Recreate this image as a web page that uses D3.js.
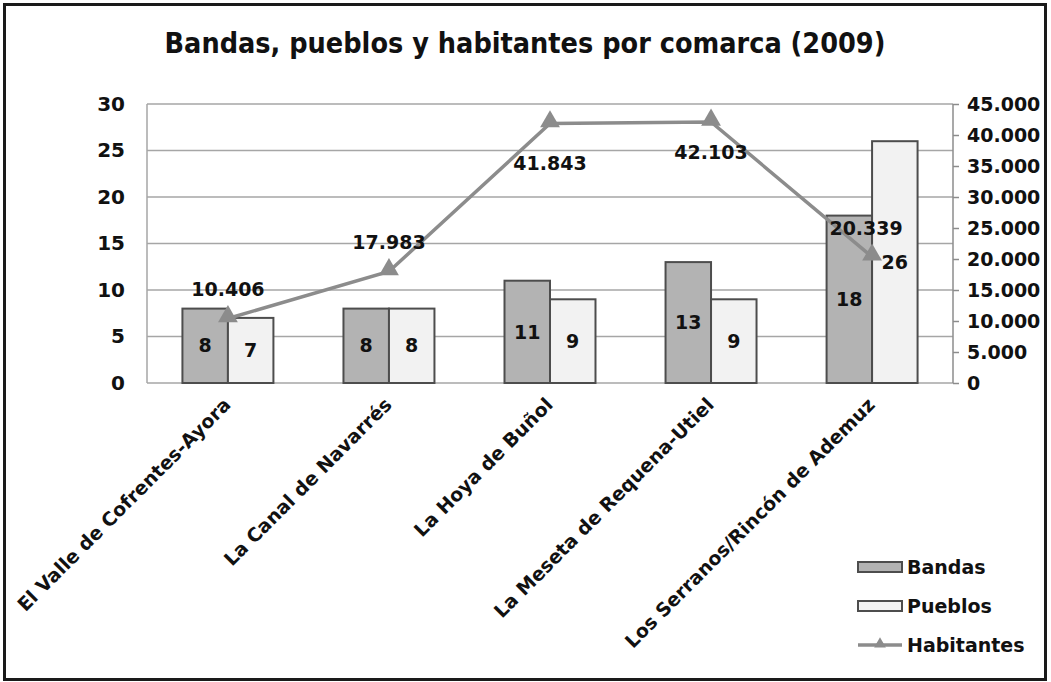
<!DOCTYPE html>
<html>
<head>
<meta charset="utf-8">
<script src="https://cdn.jsdelivr.net/npm/d3@7"></script>
<style>
  body { margin: 0; background: #fff; }
  text { font-family: 'DejaVu Sans', Verdana, sans-serif; font-weight: bold; fill: #111; }
</style>
</head>
<body>
<div id="chart"></div>
<script>
let comarcas = [
  'El Valle de Cofrentes-Ayora',
  'La Canal de Navarrés',
  'La Hoya de Buñol',
  'La Meseta de Requena-Utiel',
  'Los Serranos/Rincón de Ademuz'
]
let bandas = [8, 8, 11, 13, 18]
let pueblos = [7, 8, 9, 9, 26]
let habitantes = [10406, 17983, 41843, 42103, 20339]
let leftTicks = [0, 5, 10, 15, 20, 25, 30]
let rightTicks = [0, 5000, 10000, 15000, 20000, 25000, 30000, 35000, 40000, 45000]

let width = 1051
let height = 682
let margin = { top: 104, left: 147, right: 98, bottom: 299 }
let innerW = width - margin.left - margin.right
let innerH = height - margin.top - margin.bottom

let svg = d3
  .select('#chart')
  .append('svg')
  .attr('width', width)
  .attr('height', height)

// outer frame
svg
  .append('rect')
  .attr('x', 4.5)
  .attr('y', 4.5)
  .attr('width', 1041)
  .attr('height', 675)
  .attr('fill', '#fff')
  .attr('stroke', '#1a1a1a')
  .attr('stroke-width', 3)

svg
  .append('text')
  .attr('x', 525)
  .attr('y', 53)
  .attr('text-anchor', 'middle')
  .attr('font-size', 28.5)
  .style('font-family', "'DejaVu Sans Condensed', 'DejaVu Sans', sans-serif")
  .text('Bandas, pueblos y habitantes por comarca (2009)')

let g = svg
  .append('g')
  .attr('transform', 'translate(' + margin.left + ',' + margin.top + ')')

let xScale = d3.scaleBand().domain(comarcas).range([0, innerW]).paddingInner(0.435).paddingOuter(0.22)
let yLeft = d3.scaleLinear().domain([0, 30]).range([innerH, 0])
let yRight = d3.scaleLinear().domain([0, 45000]).range([innerH, 0])
let barW = xScale.bandwidth() / 2

// gridlines
g.selectAll('.grid')
  .data(leftTicks)
  .enter()
  .append('line')
  .attr('class', 'grid')
  .attr('x1', 0)
  .attr('x2', innerW)
  .attr('y1', d => yLeft(d))
  .attr('y2', d => yLeft(d))
  .attr('stroke', '#a6a6a6')
  .attr('stroke-width', 1.5)

// left frame line
g.append('line')
  .attr('x1', 0).attr('x2', 0)
  .attr('y1', 0).attr('y2', innerH)
  .attr('stroke', '#a6a6a6')
  .attr('stroke-width', 1.5)

let yAxisL = d3.axisLeft(yLeft).tickValues(leftTicks).tickSize(0).tickPadding(22)
g.append('g')
  .attr('class', 'axis y-left')
  .call(yAxisL)
  .call(a => a.select('.domain').remove())
  .selectAll('text')
  .attr('font-size', 20)
  .style('font-family', "'DejaVu Sans', sans-serif")
  .attr('font-weight', 'bold')
  .attr('fill', '#111')

let yAxisR = d3
  .axisRight(yRight)
  .tickValues(rightTicks)
  .tickSize(6)
  .tickPadding(8)
  .tickFormat(d => d3.format(',')(d).replace(/,/g, '.'))
g.append('g')
  .attr('class', 'axis y-right')
  .attr('transform', 'translate(' + innerW + ',0)')
  .call(yAxisR)
  .call(a => a.selectAll('line, path').attr('stroke', '#8c8c8c').attr('stroke-width', 1.5))
  .call(a => a.select('.domain').attr('d', 'M0,0V' + innerH))
  .selectAll('text')
  .attr('font-size', 19)
  .style('font-family', "'DejaVu Sans', sans-serif")
  .attr('font-weight', 'bold')
  .attr('fill', '#111')

// bars
let groups = g
  .selectAll('.comarca')
  .data(comarcas)
  .enter()
  .append('g')
  .attr('class', 'comarca')
  .attr('transform', d => 'translate(' + xScale(d) + ',0)')

groups
  .append('rect')
  .attr('x', 0)
  .attr('y', (d, i) => yLeft(bandas[i]))
  .attr('width', barW)
  .attr('height', (d, i) => innerH - yLeft(bandas[i]))
  .attr('fill', '#b3b3b3')
  .attr('stroke', '#4d4d4d')
  .attr('stroke-width', 2)

groups
  .append('rect')
  .attr('x', barW)
  .attr('y', (d, i) => yLeft(pueblos[i]))
  .attr('width', barW)
  .attr('height', (d, i) => innerH - yLeft(pueblos[i]))
  .attr('fill', '#f2f2f2')
  .attr('stroke', '#4d4d4d')
  .attr('stroke-width', 2)

groups
  .append('text')
  .attr('x', barW / 2)
  .attr('y', (d, i) => (yLeft(bandas[i]) + innerH) / 2)
  .attr('dy', '0.35em')
  .attr('text-anchor', 'middle')
  .attr('font-size', 19)
  .text((d, i) => bandas[i])

groups
  .append('text')
  .attr('x', barW * 1.5)
  .attr('y', (d, i) => (yLeft(pueblos[i]) + innerH) / 2)
  .attr('dy', '0.35em')
  .attr('text-anchor', 'middle')
  .attr('font-size', 19)
  .text((d, i) => pueblos[i])

// habitantes line
let cx = d => xScale(d) + xScale.bandwidth() / 2
let line = d3
  .line()
  .x(d => cx(d))
  .y((d, i) => yRight(habitantes[i]))

g.append('path')
  .datum(comarcas)
  .attr('d', line)
  .attr('fill', 'none')
  .attr('stroke', '#8c8c8c')
  .attr('stroke-width', 3.5)

let tri = d3.symbol().type(d3.symbolTriangle).size(170)
g.selectAll('.marker')
  .data(comarcas)
  .enter()
  .append('path')
  .attr('class', 'marker')
  .attr('d', tri)
  .attr('transform', (d, i) => 'translate(' + cx(d) + ',' + (yRight(habitantes[i]) - 2) + ')')
  .attr('fill', '#8c8c8c')

// label offsets (Excel-style placement)
let labelDx = [0, 0, 0, 0, -6]
let labelDy = [-29, -29, 40, 30, -29]
g.selectAll('.hab-label')
  .data(comarcas)
  .enter()
  .append('text')
  .attr('class', 'hab-label')
  .attr('x', (d, i) => cx(d) + labelDx[i])
  .attr('y', (d, i) => yRight(habitantes[i]) + labelDy[i])
  .attr('dy', '0.35em')
  .attr('text-anchor', 'middle')
  .attr('font-size', 19)
  .text((d, i) => d3.format(',')(habitantes[i]).replace(/,/g, '.'))

// x labels
g.selectAll('.x-label')
  .data(comarcas)
  .enter()
  .append('text')
  .attr('class', 'x-label')
  .attr('transform', d => 'translate(' + (cx(d) + 4) + ',' + (innerH + 23) + ') rotate(-45)')
  .attr('text-anchor', 'end')
  .attr('font-size', 19)
  .text(d => d)

// legend
let legendItems = ['Bandas', 'Pueblos', 'Habitantes']
let legend = svg
  .selectAll('.legend')
  .data(legendItems)
  .enter()
  .append('g')
  .attr('class', 'legend')
  .attr('transform', (d, i) => 'translate(858,' + (567 + i * 39) + ')')

legend.each(function(d, i) {
  let el = d3.select(this)
  if (i < 2) {
    el.append('rect')
      .attr('x', 0)
      .attr('y', -5)
      .attr('width', 44)
      .attr('height', 10)
      .attr('fill', i === 0 ? '#b3b3b3' : '#f2f2f2')
      .attr('stroke', '#4d4d4d')
      .attr('stroke-width', 2)
  } else {
    el.append('line')
      .attr('x1', 0).attr('x2', 44)
      .attr('y1', 0).attr('y2', 0)
      .attr('stroke', '#8c8c8c')
      .attr('stroke-width', 3.5)
    el.append('path')
      .attr('d', d3.symbol().type(d3.symbolTriangle).size(60))
      .attr('transform', 'translate(22,-1)')
      .attr('fill', '#8c8c8c')
  }
  el.append('text')
    .attr('x', 49)
    .attr('dy', '0.35em')
    .attr('font-size', 19)
    .text(d)
})
</script>
</body>
</html>
